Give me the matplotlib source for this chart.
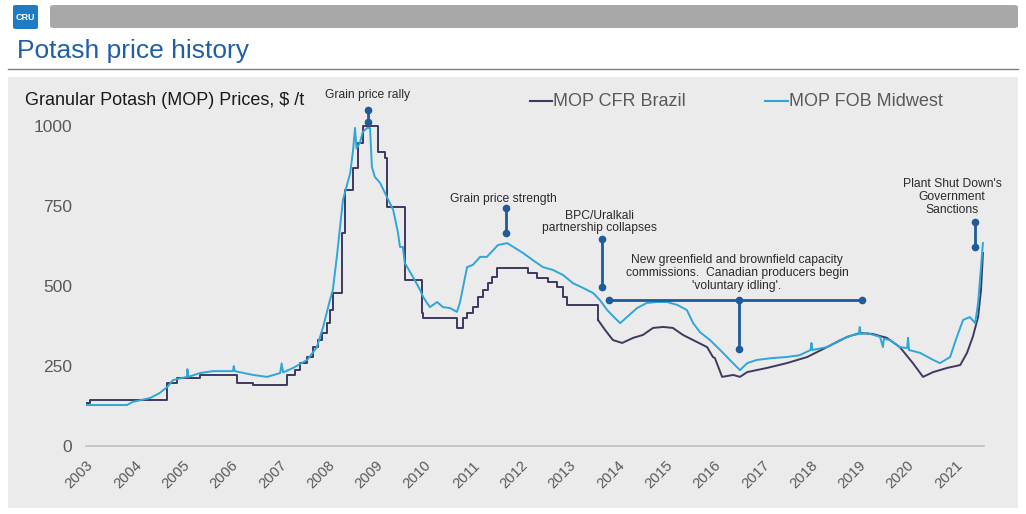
import matplotlib
matplotlib.use('Agg')
import matplotlib.pyplot as plt
from matplotlib.patches import FancyBboxPatch, Rectangle
from matplotlib.lines import Line2D

plt.rcParams['font.family'] = ['Liberation Sans', 'DejaVu Sans']

# MOP CFR Brazil (decimal year, $/t); stepped until 2013.6, smoother after
brazil_t = [2003.00, 2003.08, 2004.68, 2004.88, 2005.36, 2006.13, 2006.46, 2007.16, 2007.33,
            2007.43, 2007.58, 2007.70, 2007.80, 2007.89, 2007.99, 2008.05, 2008.11, 2008.30,
            2008.36, 2008.53, 2008.63, 2008.73, 2009.05, 2009.19, 2009.23, 2009.60, 2009.96,
            2009.98, 2010.68, 2010.80, 2010.89, 2011.01, 2011.12, 2011.22, 2011.32, 2011.41,
            2011.51, 2012.15, 2012.34, 2012.57, 2012.75, 2012.88, 2012.96, 2013.60, 2013.75,
            2013.91, 2014.10, 2014.33, 2014.53, 2014.74, 2014.95, 2015.15, 2015.36, 2015.57,
            2015.86, 2015.98, 2016.02, 2016.17, 2016.40, 2016.54, 2016.69, 2017.10, 2017.51,
            2017.93, 2018.34, 2018.76, 2019.02, 2019.29, 2019.58, 2019.85, 2020.12, 2020.33,
            2020.54, 2020.83, 2021.10, 2021.24, 2021.36, 2021.47, 2021.53, 2021.57]
brazil_v = [134, 144, 197, 212, 222, 197, 190, 222, 237,
            259, 278, 309, 331, 353, 384, 425, 478, 666,
            800, 869, 947, 1000, 919, 900, 747, 519, 416,
            400, 369, 400, 416, 434, 466, 487, 509, 528,
            556, 541, 525, 512, 497, 466, 441, 394, 362,
            331, 322, 338, 347, 369, 372, 369, 347, 331,
            309, 278, 275, 216, 222, 216, 231, 244, 259,
            278, 309, 341, 353, 350, 338, 309, 259, 216,
            231, 244, 253, 291, 341, 403, 487, 603]
brazil_step_end = 2013.60

# MOP FOB Midwest (decimal year, $/t)
midwest_t = [2003.00, 2003.85, 2003.97, 2004.33, 2004.53, 2004.68, 2004.80, 2005.09, 2005.10,
             2005.12, 2005.36, 2005.63, 2006.04, 2006.06, 2006.08, 2006.46, 2006.75, 2007.02,
             2007.05, 2007.08, 2007.29, 2007.58, 2007.78, 2007.91, 2008.05, 2008.11, 2008.20,
             2008.32, 2008.47, 2008.53, 2008.57, 2008.60, 2008.67, 2008.73, 2008.82, 2008.88,
             2008.92, 2008.98, 2009.09, 2009.23, 2009.36, 2009.46, 2009.50, 2009.56, 2009.60,
             2009.77, 2009.92, 2009.98, 2010.06, 2010.12, 2010.27, 2010.39, 2010.54, 2010.68,
             2010.74, 2010.89, 2011.01, 2011.16, 2011.30, 2011.43, 2011.53, 2011.72, 2011.88,
             2012.05, 2012.25, 2012.46, 2012.67, 2012.88, 2013.08, 2013.29, 2013.50, 2013.64,
             2013.79, 2013.95, 2014.06, 2014.20, 2014.41, 2014.61, 2014.82, 2015.03, 2015.24,
             2015.44, 2015.57, 2015.71, 2015.92, 2016.13, 2016.33, 2016.54, 2016.69, 2016.89,
             2017.22, 2017.51, 2017.78, 2018.00, 2018.02, 2018.04, 2018.34, 2018.61, 2018.88,
             2019.00, 2019.02, 2019.04, 2019.17, 2019.44, 2019.50, 2019.52, 2019.65, 2019.85,
             2020.00, 2020.02, 2020.04, 2020.27, 2020.54, 2020.68, 2020.89, 2021.03, 2021.16,
             2021.30, 2021.41, 2021.47, 2021.53, 2021.57]
midwest_v = [128, 128, 138, 150, 166, 184, 206, 216, 240,
             216, 228, 234, 234, 250, 234, 222, 216, 228,
             258, 230, 244, 269, 309, 372, 456, 487, 600,
             769, 853, 925, 994, 930, 947, 981, 994, 994,
             872, 841, 822, 778, 738, 666, 622, 622, 572,
             528, 487, 466, 447, 434, 450, 434, 431, 419,
             447, 559, 566, 591, 591, 612, 628, 634, 619,
             603, 581, 559, 550, 534, 509, 494, 478, 456,
             425, 400, 384, 403, 431, 447, 450, 450, 441,
             425, 384, 356, 331, 300, 269, 237, 259, 269,
             275, 278, 284, 300, 322, 300, 309, 331, 347,
             350, 372, 350, 353, 341, 309, 335, 331, 309,
             306, 338, 300, 291, 269, 259, 278, 341, 394,
             403, 384, 447, 559, 634]

years = list(range(2003, 2022))
yticks = [0, 250, 500, 750, 1000]

c_brazil = '#3d3a5e'
c_midwest = '#2ea6da'
c_note = '#1f5a9a'
c_text = '#595959'

fig = plt.figure(figsize=(10.26, 5.14), dpi=100, facecolor='white')
W, H = 1026.0, 514.0

def fx(px):
    return px / W

def fy(py):
    return 1 - py / H

# header pieces
fig.patches.append(FancyBboxPatch((fx(13), fy(29)), fx(25), 24 / H, boxstyle='round,pad=0,rounding_size=0.003',
                                  transform=fig.transFigure, facecolor='#1f7cc2', edgecolor='none'))
fig.text(fx(25.5), fy(17), 'CRU', color='white', fontsize=6.5, fontweight='bold', ha='center', va='center')
fig.patches.append(FancyBboxPatch((fx(50), fy(28)), fx(968), 23 / H, boxstyle='round,pad=0,rounding_size=0.004',
                                  transform=fig.transFigure, facecolor='#a8a8a8', edgecolor='none'))
fig.text(fx(17), fy(58), 'Potash price history', color='#1f5fa8', fontsize=19, va='baseline')
fig.lines.append(Line2D([fx(8), fx(1018)], [fy(69), fy(69)], transform=fig.transFigure, color='#808080', lw=1))
fig.patches.append(Rectangle((fx(8), fy(508)), fx(1010), 431 / H, transform=fig.transFigure,
                             facecolor='#ebebeb', edgecolor='none', zorder=-5))

ax = fig.add_axes([86 / W, fy(446), (2021.6 - 2003) * 48.3 / W, 352 / H])
ax.set_facecolor('none')
ax.set_zorder(2)

n_step = sum(1 for t in brazil_t if t <= brazil_step_end)
ax.plot(brazil_t[:n_step], brazil_v[:n_step], color=c_brazil, lw=1.4, drawstyle='steps-post', zorder=3)
ax.plot(brazil_t[n_step - 1:], brazil_v[n_step - 1:], color=c_brazil, lw=1.4, zorder=3)
ax.plot(midwest_t, midwest_v, color=c_midwest, lw=1.4, zorder=4)

ax.set_xlim(2003, 2021.6)
ax.set_ylim(0, 1100)
ax.set_xticks(years)
ax.set_xticklabels([str(y) for y in years], rotation=45, ha='right', rotation_mode='anchor',
                   fontsize=10.5, color=c_text)
ax.set_yticks(yticks)
ax.set_yticklabels([str(v) for v in yticks], fontsize=12.5, color=c_text)
ax.tick_params(axis='x', length=0, pad=9)
ax.tick_params(axis='y', length=0, pad=10)
for s in ['top', 'right', 'left']:
    ax.spines[s].set_visible(False)
ax.spines['bottom'].set_color('#c0c0c0')
ax.spines['bottom'].set_linewidth(1.2)

# titles and legend
fig.text(fx(25), fy(105), 'Granular Potash (MOP) Prices, $ /t', fontsize=13, color='#1a1a1a', va='baseline')
fig.lines.append(Line2D([fx(530), fx(552)], [fy(101), fy(101)], transform=fig.transFigure, color=c_brazil, lw=1.5))
fig.text(fx(553), fy(106), 'MOP CFR Brazil', fontsize=13, color=c_text, va='baseline')
fig.lines.append(Line2D([fx(765), fx(788)], [fy(101), fy(101)], transform=fig.transFigure, color=c_midwest, lw=1.5))
fig.text(fx(789), fy(106), 'MOP FOB Midwest', fontsize=13, color=c_text, va='baseline')

# annotations
def vmark(t, v0, v1):
    ax.plot([t, t], [v0, v1], color=c_note, lw=2, marker='o', ms=4.5, clip_on=False, zorder=5)

note_kw = dict(fontsize=8.7, color='#2b2b2b', ha='center', va='center', linespacing=1.1)
vmark(2008.84, 1012, 1050)
ax.text(2008.82, 1097, 'Grain price rally', **note_kw)
vmark(2011.70, 666, 744)
ax.text(2011.65, 772, 'Grain price strength', **note_kw)
vmark(2013.68, 497, 647)
ax.text(2013.64, 700, 'BPC/Uralkali\npartnership collapses', **note_kw)
ax.plot([2013.83, 2019.07], [456, 456], color=c_note, lw=2, marker='o', ms=4.5, zorder=5)
vmark(2016.52, 303, 456)
ax.text(2016.48, 541, "New greenfield and brownfield capacity\ncommissions.  Canadian producers begin\n'voluntary idling'.",
        **note_kw)
vmark(2021.41, 622, 700)
ax.text(2020.93, 778, "Plant Shut Down's\nGovernment\nSanctions", **note_kw)

fig.savefig('out.png', dpi=100, facecolor=fig.get_facecolor())
